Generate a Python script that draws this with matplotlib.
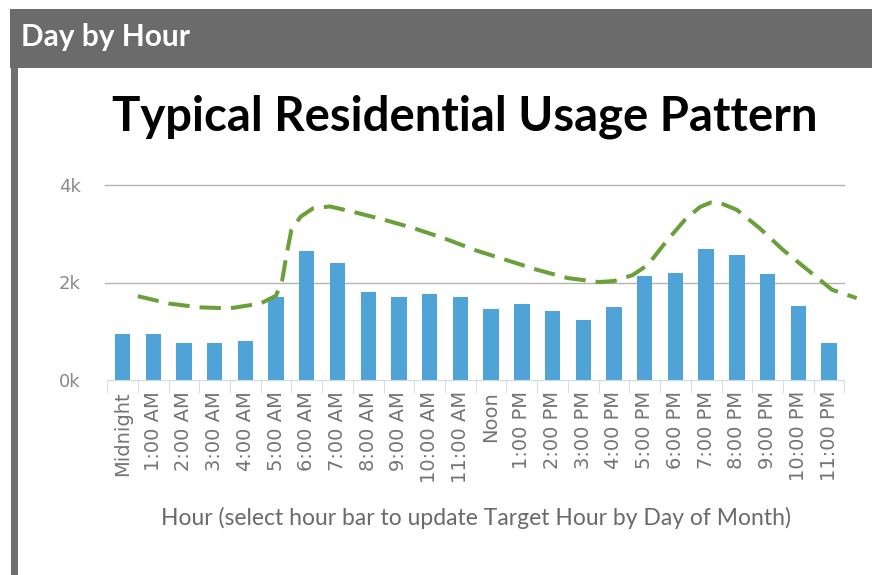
import matplotlib.pyplot as plt
from matplotlib.patches import Rectangle

hours = ["Midnight", "1:00 AM", "2:00 AM", "3:00 AM", "4:00 AM", "5:00 AM",
         "6:00 AM", "7:00 AM", "8:00 AM", "9:00 AM", "10:00 AM", "11:00 AM",
         "Noon", "1:00 PM", "2:00 PM", "3:00 PM", "4:00 PM", "5:00 PM",
         "6:00 PM", "7:00 PM", "8:00 PM", "9:00 PM", "10:00 PM", "11:00 PM"]

usage = [940, 940, 760, 760, 800, 1700, 2640, 2410, 1810, 1700, 1770, 1700,
         1460, 1560, 1420, 1230, 1490, 2130, 2200, 2690, 2570, 2170, 1510, 760]

# dashed "typical" curve at these hour positions
curve_x = [0.5, 1.5, 2.5, 3.5, 4.5, 5.0, 5.2, 5.35, 5.5, 5.8, 6.2, 6.75, 7.5,
           8.5, 9.5, 10.5, 11.5, 12.5, 13.5, 14.5, 15.5, 16.0, 16.6, 17.1,
           17.7, 18.3, 18.8, 19.15, 19.5, 20.0, 20.75, 21.5, 22.3, 23.1, 23.9]
curve_y = [1720, 1570, 1490, 1470, 1570, 1730, 2050, 2600, 3080, 3350, 3520,
           3560, 3450, 3290, 3110, 2900, 2660, 2460, 2260, 2090, 2010, 2030,
           2150, 2360, 2840, 3280, 3550, 3640, 3620, 3490, 3110, 2670, 2260,
           1850, 1680]

W, H = 872, 575
fig = plt.figure(figsize=(W / 100, H / 100), dpi=100)
fig.patch.set_facecolor("white")

# header bar and left frame
fig.add_artist(Rectangle((10 / W, 1 - 68 / H), 1, 59 / H, transform=fig.transFigure,
                         facecolor="#6b6b6b", edgecolor="none"))
fig.add_artist(Rectangle((11 / W, 0), 7 / W, 1 - 68 / H, transform=fig.transFigure,
                         facecolor="#6f6f6f", edgecolor="none"))
fig.text(21 / W, 1 - 37 / H, "Day by Hour", color="white", fontsize=21.5,
         fontfamily="Lato", fontweight="bold", va="center", ha="left")

fig.text(465 / W, 1 - 117 / H, "Typical Residential Usage Pattern", color="black",
         fontsize=34, fontfamily="Lato", fontweight="bold", va="center", ha="center")

left, right = 107.1 / W, 844.4 / W
ax = fig.add_axes([left, 1 - 380 / H, right - left, 195 / H])
ax.bar(range(len(hours)), usage, width=0.5, color="#4fa3d6", zorder=2)
ax.plot(curve_x, curve_y, color="#6a9f3a", lw=2.9, dashes=(5.3, 2.5),
        solid_capstyle="butt", zorder=3, clip_on=False)

ax.set_xlim(-0.5, 23.5)
ax.set_ylim(0, 4000)
ax.set_yticks([0, 2000, 4000])
ax.set_yticklabels(["0k", "2k", "4k"])
ax.tick_params(axis="y", length=0, pad=19, labelsize=13, labelcolor="#8a8a8a")
for y in [2000, 4000]:
    ax.axhline(y, xmin=-0.003, color="#b4b4b4", lw=1, zorder=1, clip_on=False)

ax.set_xticks(range(len(hours)))
ax.set_xticklabels(hours, rotation=90, fontsize=14, color="#747474")
ax.set_xticks([i - 0.5 for i in range(len(hours) + 1)], minor=True)
ax.tick_params(axis="x", which="major", length=0, pad=8)
ax.tick_params(axis="x", which="minor", length=9, width=0.8, color="#d6dee6")
ax.set_xlabel("Hour (select hour bar to update Target Hour by Day of Month)",
              fontsize=16.5, fontfamily="Lato", color="#6a6a6a", labelpad=17)

for s in ["top", "right", "left"]:
    ax.spines[s].set_visible(False)
ax.spines["bottom"].set_color("#c9dbe8")
ax.set_facecolor("none")

fig.savefig("out.png", dpi=100, facecolor="white")
